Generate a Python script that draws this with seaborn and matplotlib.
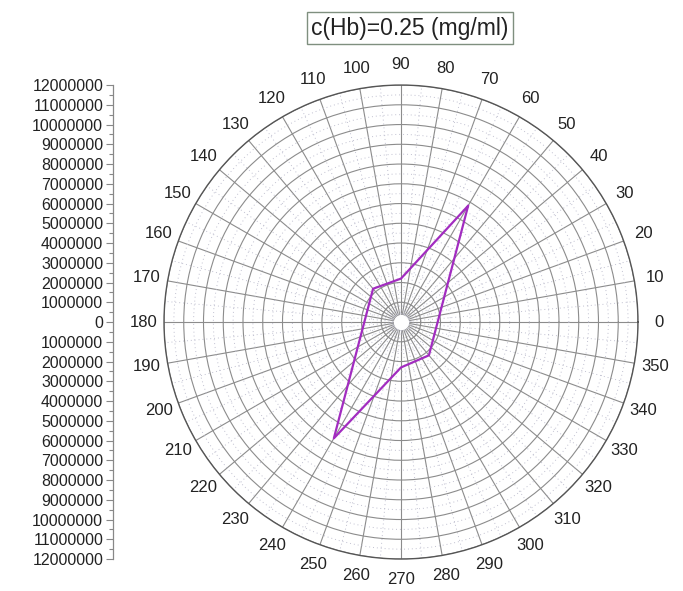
import numpy as np
import pandas as pd
import seaborn as sns
import matplotlib
matplotlib.use("Agg")
import matplotlib.pyplot as plt
from matplotlib.ticker import FixedLocator, FuncFormatter

# data
angles_deg = [60, 90, 130, 240, 270, 310]
radius = [6.8e6, 2.2e6, 2.2e6, 6.8e6, 2.3e6, 2.2e6]
title_text = "c(Hb)=0.25 (mg/ml)"
r_max = 12e6
theta_ticks = list(range(0, 360, 10))

sns.set_theme(style="white")
plt.rcParams['font.family'] = ['Liberation Sans', 'DejaVu Sans']

# close the polygon
df = pd.DataFrame({"theta": np.deg2rad(angles_deg + angles_deg[:1]),
                   "r": radius + radius[:1]})

fig = plt.figure(figsize=(6.83, 5.91), dpi=100)

# polar panel
ax = fig.add_axes([0.2401, 0.0541, 0.694, 0.802], projection="polar")
ax.set_axisbelow(True)
ax.set_ylim(0, r_max)
ax.set_xticks(np.deg2rad(theta_ticks))
ax.set_xticklabels([str(t) for t in theta_ticks], fontsize=12, color="#222222")
ax.set_xticks(np.deg2rad(np.arange(5, 360, 10)), minor=True)
ax.set_yticks(np.arange(1e6, r_max + 1, 1e6))
ax.set_yticks(np.arange(0.5e6, r_max, 1e6), minor=True)
ax.set_yticklabels([])
ax.tick_params(axis="x", pad=8, length=0)
ax.tick_params(which="minor", length=0)
ax.grid(which="major", color="#8c8c8c", linewidth=0.8, linestyle="-")
ax.grid(which="minor", color="#c0c0d0", linewidth=0.7, linestyle=(0, (1, 3)))
ax.spines["polar"].set_color("#555555")
ax.spines["polar"].set_linewidth(1.0)

# white hole in the middle
hole = np.linspace(0, 2 * np.pi, 200)
ax.fill_between(hole, 0, 0.35e6, color="white", zorder=1.5)

sns.lineplot(data=df, x="theta", y="r", sort=False, estimator=None, ax=ax,
             color="#a22cc0", linewidth=1.6, zorder=3)
ax.set_xlabel("")
ax.set_ylabel("")

# linear scale on the left
lax = fig.add_axes([0.1654, 0.0541, 0.001, 0.802])
lax.set_ylim(-r_max, r_max)
lax.set_xticks([])
for s in ["top", "right", "bottom"]:
    lax.spines[s].set_visible(False)
lax.spines["left"].set_color("#888888")
lax.spines["left"].set_linewidth(0.9)
lax.yaxis.set_major_locator(FixedLocator(np.arange(-r_max, r_max + 1, 1e6)))
lax.yaxis.set_minor_locator(FixedLocator(np.arange(-r_max + 0.5e6, r_max, 1e6)))
lax.yaxis.set_major_formatter(FuncFormatter(lambda v, p: "%d" % abs(round(v))))
lax.tick_params(axis="y", which="major", length=5, width=0.8, color="#888888",
                labelsize=11.5, labelcolor="#222222", pad=2, left=True)
lax.tick_params(axis="y", which="minor", length=3, width=0.8, color="#888888", left=True)
lax.patch.set_alpha(0)

fig.text(0.60, 0.952, title_text, ha="center", va="center", fontsize=16.5,
         color="#222222",
         bbox=dict(boxstyle="square,pad=0.2", facecolor="white",
                   edgecolor="#7f8f7f", linewidth=1.0))

fig.savefig("out.png", dpi=100)
